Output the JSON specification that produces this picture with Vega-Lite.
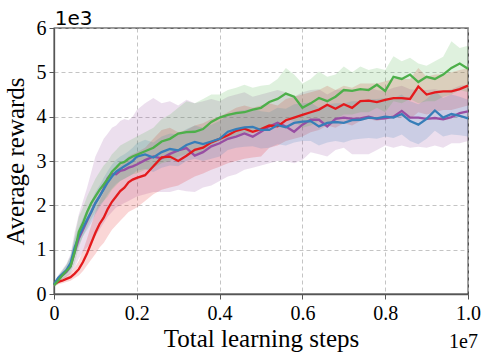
{
"$schema":"https://vega.github.io/schema/vega-lite/v6.json",
"width":414,"height":266,"autosize":"none",
"padding":{"left":54,"top":28,"right":21,"bottom":67},
"background":"white",
"config":{"view":{"stroke":"#333","strokeWidth":1.3},"font":"Liberation Serif",
"style":{"guide-label":{"font":"Liberation Serif","fontSize":20,"fill":"#000"},"guide-title":{"font":"Liberation Serif","fontSize":25,"fontWeight":"normal","fill":"#000"}},
"axis":{"labelFont":"Liberation Serif","titleFont":"Liberation Serif","labelFontSize":20,"titleFontSize":25,"titleFontWeight":"normal","labelColor":"#000","titleColor":"#000","domainColor":"#555","domainWidth":1.3,"tickColor":"#555","tickSize":5,"labelPadding":2,"gridColor":"#b5b5b5","gridDash":[4,3],"gridWidth":0.8}},
"data":{"values":[
{"x":0,"s":"a","m":0.2,"lo":0.15,"hi":0.25},
{"x":0.01,"s":"a","m":0.33,"lo":0.25,"hi":0.42},
{"x":0.02,"s":"a","m":0.42,"lo":0.32,"hi":0.55},
{"x":0.03,"s":"a","m":0.5,"lo":0.38,"hi":0.68},
{"x":0.04,"s":"a","m":0.62,"lo":0.45,"hi":0.9},
{"x":0.05,"s":"a","m":0.95,"lo":0.6,"hi":1.4},
{"x":0.06,"s":"a","m":1.25,"lo":0.8,"hi":1.8},
{"x":0.07,"s":"a","m":1.45,"lo":0.95,"hi":2.1},
{"x":0.08,"s":"a","m":1.65,"lo":1.05,"hi":2.4},
{"x":0.09,"s":"a","m":1.85,"lo":1.15,"hi":2.75},
{"x":0.10,"s":"a","m":2.05,"lo":1.3,"hi":3.1},
{"x":0.11,"s":"a","m":2.2,"lo":1.45,"hi":3.3},
{"x":0.12,"s":"a","m":2.38,"lo":1.6,"hi":3.5},
{"x":0.13,"s":"a","m":2.62,"lo":1.75,"hi":3.62},
{"x":0.14,"s":"a","m":2.72,"lo":1.85,"hi":3.75},
{"x":0.15,"s":"a","m":2.7,"lo":1.95,"hi":3.8},
{"x":0.16,"s":"a","m":2.78,"lo":2.0,"hi":3.9},
{"x":0.17,"s":"a","m":2.8,"lo":2.05,"hi":3.95},
{"x":0.18,"s":"a","m":2.85,"lo":2.1,"hi":3.92},
{"x":0.19,"s":"a","m":2.88,"lo":2.15,"hi":4.0},
{"x":0.20,"s":"a","m":2.92,"lo":2.2,"hi":4.15},
{"x":0.22,"s":"a","m":3.02,"lo":2.25,"hi":4.3},
{"x":0.24,"s":"a","m":3.1,"lo":2.3,"hi":4.42},
{"x":0.26,"s":"a","m":3.06,"lo":2.3,"hi":4.3},
{"x":0.28,"s":"a","m":3.16,"lo":2.3,"hi":4.35},
{"x":0.30,"s":"a","m":3.24,"lo":2.35,"hi":4.25},
{"x":0.32,"s":"a","m":3.29,"lo":2.32,"hi":4.38},
{"x":0.34,"s":"a","m":3.12,"lo":2.3,"hi":4.3},
{"x":0.36,"s":"a","m":3.2,"lo":2.4,"hi":4.35},
{"x":0.38,"s":"a","m":3.33,"lo":2.45,"hi":4.4},
{"x":0.40,"s":"a","m":3.4,"lo":2.55,"hi":4.35},
{"x":0.42,"s":"a","m":3.5,"lo":2.65,"hi":4.45},
{"x":0.44,"s":"a","m":3.55,"lo":2.7,"hi":4.5},
{"x":0.46,"s":"a","m":3.62,"lo":2.8,"hi":4.55},
{"x":0.48,"s":"a","m":3.55,"lo":2.85,"hi":4.45},
{"x":0.50,"s":"a","m":3.66,"lo":2.9,"hi":4.5},
{"x":0.52,"s":"a","m":3.78,"lo":2.95,"hi":4.55},
{"x":0.54,"s":"a","m":3.86,"lo":3.0,"hi":4.6},
{"x":0.56,"s":"a","m":3.78,"lo":3.0,"hi":4.55},
{"x":0.58,"s":"a","m":3.66,"lo":2.95,"hi":4.45},
{"x":0.60,"s":"a","m":3.82,"lo":3.02,"hi":4.55},
{"x":0.62,"s":"a","m":3.93,"lo":3.2,"hi":4.6},
{"x":0.64,"s":"a","m":3.93,"lo":3.15,"hi":4.62},
{"x":0.66,"s":"a","m":3.78,"lo":3.1,"hi":4.5},
{"x":0.68,"s":"a","m":3.95,"lo":3.25,"hi":4.6},
{"x":0.70,"s":"a","m":3.98,"lo":3.3,"hi":4.62},
{"x":0.72,"s":"a","m":3.95,"lo":3.15,"hi":4.6},
{"x":0.74,"s":"a","m":3.96,"lo":3.15,"hi":4.62},
{"x":0.76,"s":"a","m":4.0,"lo":3.15,"hi":4.65},
{"x":0.78,"s":"a","m":3.95,"lo":3.25,"hi":4.6},
{"x":0.80,"s":"a","m":3.96,"lo":3.35,"hi":4.58},
{"x":0.82,"s":"a","m":4.0,"lo":3.3,"hi":4.65},
{"x":0.84,"s":"a","m":4.13,"lo":3.35,"hi":4.7},
{"x":0.86,"s":"a","m":3.98,"lo":3.3,"hi":4.62},
{"x":0.88,"s":"a","m":3.98,"lo":3.32,"hi":4.6},
{"x":0.90,"s":"a","m":3.95,"lo":3.3,"hi":4.6},
{"x":0.92,"s":"a","m":3.97,"lo":3.35,"hi":4.62},
{"x":0.94,"s":"a","m":3.94,"lo":3.3,"hi":4.58},
{"x":0.96,"s":"a","m":3.99,"lo":3.4,"hi":4.62},
{"x":0.98,"s":"a","m":4.08,"lo":3.4,"hi":4.7},
{"x":1.00,"s":"a","m":4.12,"lo":3.45,"hi":4.72},
{"x":0,"s":"b","m":0.22,"lo":0.18,"hi":0.26},
{"x":0.01,"s":"b","m":0.27,"lo":0.22,"hi":0.32},
{"x":0.02,"s":"b","m":0.3,"lo":0.24,"hi":0.36},
{"x":0.03,"s":"b","m":0.34,"lo":0.27,"hi":0.42},
{"x":0.04,"s":"b","m":0.38,"lo":0.3,"hi":0.48},
{"x":0.05,"s":"b","m":0.46,"lo":0.36,"hi":0.6},
{"x":0.06,"s":"b","m":0.56,"lo":0.42,"hi":0.75},
{"x":0.07,"s":"b","m":0.72,"lo":0.52,"hi":0.98},
{"x":0.08,"s":"b","m":0.92,"lo":0.65,"hi":1.25},
{"x":0.09,"s":"b","m":1.15,"lo":0.78,"hi":1.55},
{"x":0.10,"s":"b","m":1.38,"lo":0.9,"hi":1.85},
{"x":0.11,"s":"b","m":1.58,"lo":1.05,"hi":2.1},
{"x":0.12,"s":"b","m":1.72,"lo":1.15,"hi":2.3},
{"x":0.13,"s":"b","m":1.92,"lo":1.3,"hi":2.5},
{"x":0.14,"s":"b","m":2.08,"lo":1.45,"hi":2.65},
{"x":0.15,"s":"b","m":2.2,"lo":1.55,"hi":2.8},
{"x":0.16,"s":"b","m":2.32,"lo":1.65,"hi":2.9},
{"x":0.17,"s":"b","m":2.4,"lo":1.75,"hi":3.0},
{"x":0.18,"s":"b","m":2.52,"lo":1.85,"hi":3.1},
{"x":0.19,"s":"b","m":2.58,"lo":1.9,"hi":3.15},
{"x":0.20,"s":"b","m":2.62,"lo":1.95,"hi":3.2},
{"x":0.22,"s":"b","m":2.68,"lo":2.1,"hi":3.3},
{"x":0.24,"s":"b","m":2.88,"lo":2.25,"hi":3.5},
{"x":0.26,"s":"b","m":3.08,"lo":2.35,"hi":3.7},
{"x":0.28,"s":"b","m":3.1,"lo":2.4,"hi":3.75},
{"x":0.30,"s":"b","m":3.0,"lo":2.45,"hi":3.65},
{"x":0.32,"s":"b","m":3.12,"lo":2.55,"hi":3.7},
{"x":0.34,"s":"b","m":3.25,"lo":2.65,"hi":3.8},
{"x":0.36,"s":"b","m":3.3,"lo":2.72,"hi":3.85},
{"x":0.38,"s":"b","m":3.42,"lo":2.8,"hi":3.95},
{"x":0.40,"s":"b","m":3.5,"lo":2.87,"hi":4.0},
{"x":0.42,"s":"b","m":3.58,"lo":2.95,"hi":4.1},
{"x":0.44,"s":"b","m":3.68,"lo":3.0,"hi":4.2},
{"x":0.46,"s":"b","m":3.73,"lo":3.05,"hi":4.25},
{"x":0.48,"s":"b","m":3.66,"lo":3.08,"hi":4.2},
{"x":0.50,"s":"b","m":3.72,"lo":3.1,"hi":4.25},
{"x":0.52,"s":"b","m":3.8,"lo":3.3,"hi":4.3},
{"x":0.54,"s":"b","m":3.78,"lo":3.35,"hi":4.25},
{"x":0.56,"s":"b","m":3.92,"lo":3.45,"hi":4.4},
{"x":0.58,"s":"b","m":3.98,"lo":3.5,"hi":4.45},
{"x":0.60,"s":"b","m":4.04,"lo":3.55,"hi":4.5},
{"x":0.62,"s":"b","m":4.1,"lo":3.65,"hi":4.55},
{"x":0.64,"s":"b","m":4.16,"lo":3.7,"hi":4.6},
{"x":0.66,"s":"b","m":4.27,"lo":3.8,"hi":4.7},
{"x":0.68,"s":"b","m":4.18,"lo":3.75,"hi":4.6},
{"x":0.70,"s":"b","m":4.28,"lo":3.85,"hi":4.7},
{"x":0.72,"s":"b","m":4.2,"lo":3.8,"hi":4.65},
{"x":0.74,"s":"b","m":4.35,"lo":3.9,"hi":4.75},
{"x":0.76,"s":"b","m":4.36,"lo":3.95,"hi":4.75},
{"x":0.78,"s":"b","m":4.33,"lo":3.9,"hi":4.75},
{"x":0.80,"s":"b","m":4.38,"lo":3.95,"hi":4.8},
{"x":0.82,"s":"b","m":4.42,"lo":4.0,"hi":4.85},
{"x":0.84,"s":"b","m":4.42,"lo":4.0,"hi":4.85},
{"x":0.86,"s":"b","m":4.4,"lo":3.95,"hi":4.85},
{"x":0.88,"s":"b","m":4.68,"lo":4.1,"hi":5.1},
{"x":0.90,"s":"b","m":4.5,"lo":4.05,"hi":4.9},
{"x":0.92,"s":"b","m":4.55,"lo":4.1,"hi":4.95},
{"x":0.94,"s":"b","m":4.57,"lo":4.15,"hi":4.95},
{"x":0.96,"s":"b","m":4.57,"lo":4.15,"hi":5.0},
{"x":0.98,"s":"b","m":4.62,"lo":4.2,"hi":5.05},
{"x":1.00,"s":"b","m":4.7,"lo":4.25,"hi":5.1},
{"x":0,"s":"c","m":0.22,"lo":0.18,"hi":0.27},
{"x":0.01,"s":"c","m":0.36,"lo":0.3,"hi":0.42},
{"x":0.02,"s":"c","m":0.45,"lo":0.38,"hi":0.53},
{"x":0.03,"s":"c","m":0.54,"lo":0.45,"hi":0.65},
{"x":0.04,"s":"c","m":0.7,"lo":0.55,"hi":0.85},
{"x":0.05,"s":"c","m":1.05,"lo":0.85,"hi":1.25},
{"x":0.06,"s":"c","m":1.3,"lo":1.1,"hi":1.5},
{"x":0.07,"s":"c","m":1.5,"lo":1.3,"hi":1.72},
{"x":0.08,"s":"c","m":1.68,"lo":1.45,"hi":1.92},
{"x":0.09,"s":"c","m":1.85,"lo":1.6,"hi":2.1},
{"x":0.10,"s":"c","m":2.05,"lo":1.8,"hi":2.3},
{"x":0.11,"s":"c","m":2.2,"lo":1.95,"hi":2.45},
{"x":0.12,"s":"c","m":2.36,"lo":2.1,"hi":2.62},
{"x":0.13,"s":"c","m":2.52,"lo":2.25,"hi":2.78},
{"x":0.14,"s":"c","m":2.65,"lo":2.38,"hi":2.92},
{"x":0.15,"s":"c","m":2.76,"lo":2.48,"hi":3.03},
{"x":0.16,"s":"c","m":2.82,"lo":2.55,"hi":3.1},
{"x":0.17,"s":"c","m":2.88,"lo":2.6,"hi":3.15},
{"x":0.18,"s":"c","m":2.94,"lo":2.65,"hi":3.22},
{"x":0.19,"s":"c","m":3.0,"lo":2.7,"hi":3.3},
{"x":0.20,"s":"c","m":3.1,"lo":2.78,"hi":3.4},
{"x":0.22,"s":"c","m":3.15,"lo":2.82,"hi":3.48},
{"x":0.24,"s":"c","m":3.08,"lo":2.75,"hi":3.42},
{"x":0.26,"s":"c","m":3.2,"lo":2.85,"hi":3.55},
{"x":0.28,"s":"c","m":3.27,"lo":2.9,"hi":3.62},
{"x":0.30,"s":"c","m":3.24,"lo":2.88,"hi":3.6},
{"x":0.32,"s":"c","m":3.36,"lo":3.0,"hi":3.72},
{"x":0.34,"s":"c","m":3.43,"lo":3.05,"hi":3.8},
{"x":0.36,"s":"c","m":3.38,"lo":3.0,"hi":3.75},
{"x":0.38,"s":"c","m":3.44,"lo":3.05,"hi":3.82},
{"x":0.40,"s":"c","m":3.5,"lo":3.1,"hi":3.9},
{"x":0.42,"s":"c","m":3.66,"lo":3.25,"hi":4.05},
{"x":0.44,"s":"c","m":3.72,"lo":3.3,"hi":4.12},
{"x":0.46,"s":"c","m":3.76,"lo":3.32,"hi":4.15},
{"x":0.48,"s":"c","m":3.77,"lo":3.33,"hi":4.18},
{"x":0.50,"s":"c","m":3.7,"lo":3.28,"hi":4.12},
{"x":0.52,"s":"c","m":3.7,"lo":3.3,"hi":4.1},
{"x":0.54,"s":"c","m":3.81,"lo":3.38,"hi":4.2},
{"x":0.56,"s":"c","m":3.76,"lo":3.35,"hi":4.18},
{"x":0.58,"s":"c","m":3.86,"lo":3.42,"hi":4.28},
{"x":0.60,"s":"c","m":3.89,"lo":3.45,"hi":4.3},
{"x":0.62,"s":"c","m":3.9,"lo":3.45,"hi":4.32},
{"x":0.64,"s":"c","m":3.78,"lo":3.35,"hi":4.2},
{"x":0.66,"s":"c","m":3.86,"lo":3.42,"hi":4.28},
{"x":0.68,"s":"c","m":3.88,"lo":3.45,"hi":4.3},
{"x":0.70,"s":"c","m":3.86,"lo":3.42,"hi":4.3},
{"x":0.72,"s":"c","m":3.92,"lo":3.48,"hi":4.35},
{"x":0.74,"s":"c","m":3.93,"lo":3.5,"hi":4.35},
{"x":0.76,"s":"c","m":3.98,"lo":3.52,"hi":4.4},
{"x":0.78,"s":"c","m":3.96,"lo":3.5,"hi":4.4},
{"x":0.80,"s":"c","m":4.0,"lo":3.55,"hi":4.42},
{"x":0.82,"s":"c","m":3.98,"lo":3.52,"hi":4.42},
{"x":0.84,"s":"c","m":4.06,"lo":3.6,"hi":4.5},
{"x":0.86,"s":"c","m":3.9,"lo":3.45,"hi":4.35},
{"x":0.88,"s":"c","m":3.82,"lo":3.38,"hi":4.28},
{"x":0.90,"s":"c","m":3.95,"lo":3.5,"hi":4.4},
{"x":0.92,"s":"c","m":4.14,"lo":3.68,"hi":4.58},
{"x":0.94,"s":"c","m":3.98,"lo":3.55,"hi":4.42},
{"x":0.96,"s":"c","m":4.06,"lo":3.6,"hi":4.5},
{"x":0.98,"s":"c","m":4.02,"lo":3.58,"hi":4.45},
{"x":1.00,"s":"c","m":3.96,"lo":3.55,"hi":4.38},
{"x":0,"s":"d","m":0.2,"lo":0.15,"hi":0.25},
{"x":0.01,"s":"d","m":0.3,"lo":0.22,"hi":0.4},
{"x":0.02,"s":"d","m":0.42,"lo":0.32,"hi":0.52},
{"x":0.03,"s":"d","m":0.52,"lo":0.4,"hi":0.66},
{"x":0.04,"s":"d","m":0.62,"lo":0.48,"hi":0.85},
{"x":0.05,"s":"d","m":0.95,"lo":0.7,"hi":1.3},
{"x":0.06,"s":"d","m":1.4,"lo":1.05,"hi":1.75},
{"x":0.07,"s":"d","m":1.6,"lo":1.3,"hi":1.95},
{"x":0.08,"s":"d","m":1.85,"lo":1.5,"hi":2.2},
{"x":0.09,"s":"d","m":2.05,"lo":1.7,"hi":2.4},
{"x":0.10,"s":"d","m":2.2,"lo":1.85,"hi":2.6},
{"x":0.11,"s":"d","m":2.35,"lo":2.0,"hi":2.75},
{"x":0.12,"s":"d","m":2.47,"lo":2.1,"hi":2.9},
{"x":0.13,"s":"d","m":2.6,"lo":2.2,"hi":3.0},
{"x":0.14,"s":"d","m":2.76,"lo":2.35,"hi":3.15},
{"x":0.15,"s":"d","m":2.85,"lo":2.45,"hi":3.25},
{"x":0.16,"s":"d","m":2.95,"lo":2.55,"hi":3.35},
{"x":0.17,"s":"d","m":2.98,"lo":2.6,"hi":3.4},
{"x":0.18,"s":"d","m":3.05,"lo":2.65,"hi":3.45},
{"x":0.19,"s":"d","m":3.1,"lo":2.7,"hi":3.5},
{"x":0.20,"s":"d","m":3.14,"lo":2.72,"hi":3.55},
{"x":0.22,"s":"d","m":3.22,"lo":2.8,"hi":3.65},
{"x":0.24,"s":"d","m":3.3,"lo":2.85,"hi":3.75},
{"x":0.26,"s":"d","m":3.44,"lo":2.95,"hi":3.95},
{"x":0.28,"s":"d","m":3.5,"lo":3.0,"hi":4.05},
{"x":0.30,"s":"d","m":3.62,"lo":3.1,"hi":4.2},
{"x":0.32,"s":"d","m":3.65,"lo":3.15,"hi":4.35},
{"x":0.34,"s":"d","m":3.66,"lo":3.15,"hi":4.3},
{"x":0.36,"s":"d","m":3.72,"lo":3.2,"hi":4.4},
{"x":0.38,"s":"d","m":3.88,"lo":3.35,"hi":4.5},
{"x":0.40,"s":"d","m":3.98,"lo":3.45,"hi":4.5},
{"x":0.42,"s":"d","m":4.04,"lo":3.5,"hi":4.6},
{"x":0.44,"s":"d","m":4.08,"lo":3.55,"hi":4.65},
{"x":0.46,"s":"d","m":4.1,"lo":3.6,"hi":4.72},
{"x":0.48,"s":"d","m":4.16,"lo":3.65,"hi":4.65},
{"x":0.50,"s":"d","m":4.2,"lo":3.7,"hi":4.7},
{"x":0.52,"s":"d","m":4.33,"lo":3.8,"hi":4.72},
{"x":0.54,"s":"d","m":4.4,"lo":3.85,"hi":4.85},
{"x":0.56,"s":"d","m":4.52,"lo":3.95,"hi":5.1},
{"x":0.58,"s":"d","m":4.45,"lo":3.9,"hi":4.95},
{"x":0.60,"s":"d","m":4.2,"lo":3.75,"hi":4.75},
{"x":0.62,"s":"d","m":4.3,"lo":3.8,"hi":4.85},
{"x":0.64,"s":"d","m":4.42,"lo":3.9,"hi":5.02},
{"x":0.66,"s":"d","m":4.35,"lo":3.85,"hi":4.9},
{"x":0.68,"s":"d","m":4.45,"lo":3.95,"hi":4.95},
{"x":0.70,"s":"d","m":4.6,"lo":4.05,"hi":5.13},
{"x":0.72,"s":"d","m":4.58,"lo":4.05,"hi":5.0},
{"x":0.74,"s":"d","m":4.62,"lo":4.1,"hi":5.13},
{"x":0.76,"s":"d","m":4.6,"lo":4.1,"hi":5.05},
{"x":0.78,"s":"d","m":4.72,"lo":4.2,"hi":5.1},
{"x":0.80,"s":"d","m":4.58,"lo":4.1,"hi":5.05},
{"x":0.82,"s":"d","m":4.9,"lo":4.35,"hi":5.36},
{"x":0.84,"s":"d","m":4.85,"lo":4.3,"hi":5.25},
{"x":0.86,"s":"d","m":4.95,"lo":4.4,"hi":5.33},
{"x":0.88,"s":"d","m":4.78,"lo":4.3,"hi":5.2},
{"x":0.90,"s":"d","m":4.9,"lo":4.35,"hi":5.15},
{"x":0.92,"s":"d","m":4.85,"lo":4.35,"hi":5.25},
{"x":0.94,"s":"d","m":4.95,"lo":4.45,"hi":5.35},
{"x":0.96,"s":"d","m":5.1,"lo":4.5,"hi":5.7},
{"x":0.98,"s":"d","m":5.2,"lo":4.6,"hi":5.55},
{"x":1.00,"s":"d","m":5.08,"lo":4.55,"hi":5.6}
]},
"layer":[
{"mark":{"type":"area","opacity":0.18},
 "encoding":{
  "x":{"field":"x","type":"quantitative","scale":{"domain":[0,1],"nice":false},
       "axis":{"values":[0,0.2,0.4,0.6,0.8,1.0],"labelExpr":"datum.value == 0 ? '0' : format(datum.value, '.1f')","title":"Total learning steps","titlePadding":3,"labelPadding":4,"labelFlush":false,"labelFont":"Liberation Serif","labelFontSize":20}},
  "y":{"field":"lo","type":"quantitative","scale":{"domain":[0,6],"nice":false},
       "axis":{"values":[0,1,2,3,4,5,6],"format":"d","title":"Average rewards","titlePadding":8,"labelPadding":3,"labelFont":"Liberation Serif","labelFontSize":20}},
  "y2":{"field":"hi"},
  "color":{"field":"s","type":"nominal","scale":{"domain":["a","b","c","d"],"range":["#984ea3","#e41a1c","#377eb8","#4daf4a"]},"legend":null}
 }},
{"mark":{"type":"line","strokeWidth":2.3},
 "encoding":{
  "x":{"field":"x","type":"quantitative"},
  "y":{"field":"m","type":"quantitative"},
  "color":{"field":"s","type":"nominal","legend":null}
 }},
{"data":{"values":[{}]},
 "mark":{"type":"text","align":"right","baseline":"alphabetic","fontSize":20,"font":"Liberation Serif","color":"#000"},
 "encoding":{"x":{"datum":1.024},"y":{"datum":-1.22},"text":{"value":"1e7"}}},
{"data":{"values":[{}]},
 "mark":{"type":"text","align":"left","baseline":"alphabetic","fontSize":20,"font":"DejaVu Sans","color":"#000"},
 "encoding":{"x":{"datum":0.002},"y":{"datum":6.07},"text":{"value":"1e3"}}}
]
}
